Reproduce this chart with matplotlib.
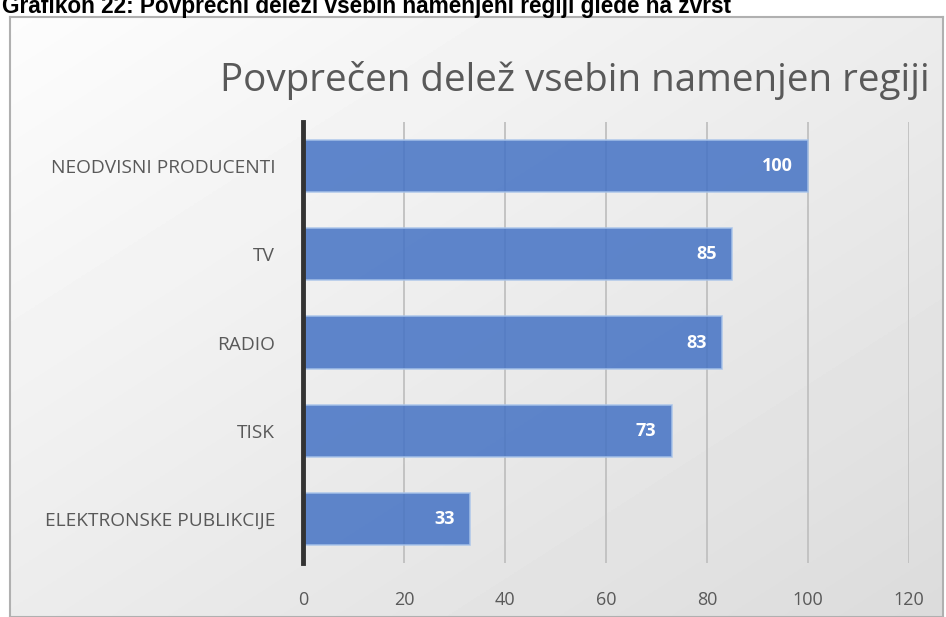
import numpy as np
import matplotlib.pyplot as plt

kategorije = ["NEODVISNI PRODUCENTI", "TV", "RADIO", "TISK", "ELEKTRONSKE PUBLIKCIJE"]
vrednosti = [100, 85, 83, 73, 33]
x_ticks = [0, 20, 40, 60, 80, 100, 120]

W, H = 946, 617
fig = plt.figure(figsize=(W / 100, H / 100), dpi=100)
fig.patch.set_facecolor("white")

# ozadje grafa: gradient od bele (levo zgoraj) proti sivi (desno spodaj)
bg = fig.add_axes([10 / W, 0, 933 / W, 600 / H])
yy, xx = np.mgrid[0:1:200j, 0:1:300j]
grad = 0.99 - 0.13 * (0.5 * xx + 0.5 * yy)
bg.imshow(grad, cmap="gray", vmin=0, vmax=1, aspect="auto", extent=[0, 1, 0, 1], origin="upper")
bg.set_xticks([]), bg.set_yticks([])
for s in bg.spines.values():
    s.set_color("#b0b0b0")
    s.set_linewidth(1.5)

# napis nad grafom je v izvirniku odrezan na zgornjem robu
fig.text(2 / W, 1 - 13 / H, "Grafikon 22: Povprečni deleži vsebin namenjeni regiji glede na zvrst",
         fontsize=16.3, fontweight="bold", family="Liberation Sans", color="black",
         va="baseline", ha="left")

ax = fig.add_axes([303 / W, 1 - 563 / H, (909 - 303) / W, (563 - 122) / H])
ax.set_facecolor("none")

y = np.arange(len(kategorije))
ax.barh(y, vrednosti, height=0.59, color="#4472c4", alpha=0.85,
        edgecolor="#a9c4ea", linewidth=1.2, zorder=3)
for yi, v in zip(y, vrednosti):
    ax.text(v - 3, yi, str(v), color="white", fontsize=13, fontweight="bold",
            family="Open Sans", ha="right", va="center", zorder=4)

ax.set_xlim(0, 120)
ax.set_ylim(len(kategorije) - 0.5, -0.5)
ax.set_xticks(x_ticks)
ax.set_xticklabels([str(t) for t in x_ticks], fontsize=13, color="#595959", family="Open Sans")
ax.set_yticks(y)
ax.set_yticklabels(kategorije, fontsize=13.8, color="#595959", family="Open Sans")
ax.tick_params(axis="both", length=0)
ax.tick_params(axis="y", pad=20)
ax.tick_params(axis="x", pad=20)
ax.grid(axis="x", color="#c0c0c0", linewidth=1.3, zorder=0)
ax.set_axisbelow(True)
for k in ["top", "right", "bottom"]:
    ax.spines[k].set_visible(False)
ax.spines["left"].set_color("#333333")
ax.spines["left"].set_linewidth(3.5)
ax.spines["left"].set_zorder(5)

fig.text(575 / W, 1 - 80 / H, "Povprečen delež vsebin namenjen regiji", fontsize=27.8,
         color="#595959", family="Open Sans", ha="center", va="center")

fig.savefig("out.png", dpi=100)
